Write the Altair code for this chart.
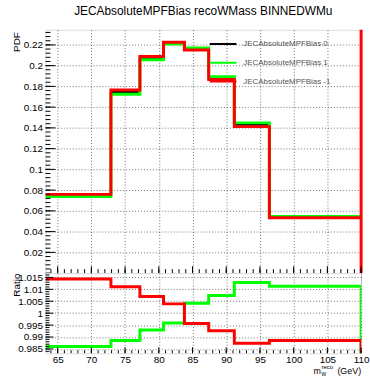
import altair as alt
import pandas as pd

# ---------------- data ----------------
edges = [63.2, 72.9, 77.2, 80.7, 83.8, 87.4, 91.2, 96.4, 110.0]
nominal = [0.0748, 0.1745, 0.2072, 0.2217, 0.2160, 0.1880, 0.1430, 0.0540]
var_up = [0.0738, 0.1725, 0.2057, 0.2208, 0.2169, 0.1894, 0.1448, 0.0546]
var_down = [0.0759, 0.1764, 0.2087, 0.2226, 0.2151, 0.1866, 0.1412, 0.0534]
ratio_up = [0.9860, 0.9885, 0.9929, 0.9959, 1.0042, 1.0074, 1.0129, 1.0113]
ratio_down = [1.0143, 1.0111, 1.0070, 1.0039, 0.9957, 0.9926, 0.9874, 0.9885]

series_names = ["JECAbsoluteMPFBias 0", "JECAbsoluteMPFBias 1", "JECAbsoluteMPFBias -1"]
title_text = "JECAbsoluteMPFBias recoWMass BINNEDWMu"

x_labels = [65, 70, 75, 80, 85, 90, 95, 100, 105, 110]
y_top_labels = [0.02, 0.04, 0.06, 0.08, 0.1, 0.12, 0.14, 0.16, 0.18, 0.2, 0.22]
y_ratio_labels = [0.985, 0.99, 0.995, 1.0, 1.005, 1.01, 1.015]

XDOM = [63.2, 110.0]
YTOP = [0.0, 0.2346]
YRAT = [0.9832, 1.0168]

# minor tick positions (axis decoration)
x_minor = [float(v) for v in range(64, 111)]
y_top_minor = [round(0.004 * k, 4) for k in range(0, 59)]
y_ratio_minor = [round(0.984 + 0.001 * k, 4) for k in range(0, 33)]

# ---------------- style ----------------
W, HT, HB = 319, 246, 81
FONT = "Liberation Sans"
RED, GREEN, BLACK = "#ff0000", "#00ff00", "#000000"


def step_rows(vals, name, end=None):
    rows = [{"x": edges[i], "y": vals[i], "series": name, "i": i} for i in range(len(vals))]
    rows.append({"x": edges[-1], "y": vals[-1], "series": name, "i": len(vals)})
    if end is not None:
        rows.append({"x": edges[-1], "y": end, "series": name, "i": len(vals) + 1})
    return pd.DataFrame(rows)


common = dict(grid=True, gridColor="#000", gridDash=[1, 2], gridOpacity=0.55,
              ticks=False, domain=False, labelFont=FONT, labelFontSize=10,
              labelColor="#000", titleFont=FONT, titleFontSize=10,
              titleColor="#000", titleFontWeight="normal")

xs = alt.Scale(domain=XDOM, nice=False, zero=False)
yts = alt.Scale(domain=YTOP, nice=False, zero=False)
yrs = alt.Scale(domain=YRAT, nice=False, zero=False)

ax_x_top = alt.Axis(values=x_labels, labels=False, title=None, minExtent=0, maxExtent=0, **common)
ax_x_bot = alt.Axis(values=x_labels, format="d", title=None, labelFlush=False, labelPadding=1, **common)
ax_y_top = alt.Axis(values=y_top_labels, format="~g", title="PDF", titleAngle=270, labelPadding=3,
                    titleAlign="right", titleBaseline="middle", titleX=-29, titleY=2, **common)
ax_y_bot = alt.Axis(values=y_ratio_labels, format="~g", title="Ratio", titleAngle=270, labelPadding=3,
                    titleAlign="right", titleBaseline="middle", titleX=-29, titleY=0, **common)

XT = alt.X("x:Q", scale=xs, axis=ax_x_top)
YT = alt.Y("y:Q", scale=yts, axis=ax_y_top)
XB = alt.X("x:Q", scale=xs, axis=ax_x_bot)
YB = alt.Y("y:Q", scale=yrs, axis=ax_y_bot)

cscale = alt.Scale(domain=series_names, range=[BLACK, GREEN, RED])
legend = alt.Legend(orient="none", legendX=165, legendY=5, title=None, symbolType="stroke",
                    symbolSize=729, symbolStrokeWidth=2, labelFont=FONT, labelFontSize=8,
                    labelColor="#555", labelOffset=6, rowPadding=0, clipHeight=18.7,
                    padding=0, offset=0)


def hist_line(df, width):
    return alt.Chart(df).mark_line(interpolate="step-after", strokeWidth=width, clip=True).encode(
        x=XT, y=YT, color=alt.Color("series:N", scale=cscale, legend=legend), order="i:Q")


top_layers = [
    hist_line(step_rows(nominal, series_names[0]), 2),
    hist_line(step_rows(var_up, series_names[1]), 3),
    hist_line(step_rows(var_down, series_names[2]), 3),
    alt.Chart(pd.DataFrame({"x": [edges[-1]], "y": [YTOP[0]], "y2": [YTOP[1]]}))
       .mark_rule(color=RED, strokeWidth=3).encode(x=XT, y=YT, y2="y2:Q"),
    # inward ticks
    alt.Chart(pd.DataFrame({"y": y_top_labels})).mark_rule(color=BLACK)
       .encode(y=YT, x=alt.value(0), x2=alt.value(10)),
    alt.Chart(pd.DataFrame({"y": y_top_minor})).mark_rule(color=BLACK)
       .encode(y=YT, x=alt.value(0), x2=alt.value(5)),
    alt.Chart(pd.DataFrame({"x": x_labels})).mark_rule(color=BLACK)
       .encode(x=XT, y=alt.value(HT), y2=alt.value(HT - 7)),
    alt.Chart(pd.DataFrame({"x": x_minor})).mark_rule(color=BLACK)
       .encode(x=XT, y=alt.value(HT), y2=alt.value(HT - 4)),
]

top = alt.layer(*top_layers).properties(
    width=W, height=HT,
    title=alt.TitleParams(title_text, font=FONT, fontSize=12, fontWeight="normal",
                          color="#000", anchor="middle", frame="group",
                          baseline="alphabetic", offset=1))


def ratio_line(df, color):
    return alt.Chart(df).mark_line(interpolate="step-after", strokeWidth=3, clip=True,
                                   color=color).encode(x=XB, y=YB, order="i:Q")


bottom_layers = [
    ratio_line(step_rows(ratio_up, series_names[1], YRAT[0]), GREEN),
    ratio_line(step_rows(ratio_down, series_names[2], YRAT[0]), RED),
    alt.Chart(pd.DataFrame({"y": y_ratio_labels})).mark_rule(color=BLACK)
       .encode(y=YB, x=alt.value(0), x2=alt.value(8)),
    alt.Chart(pd.DataFrame({"y": y_ratio_minor})).mark_rule(color=BLACK)
       .encode(y=YB, x=alt.value(0), x2=alt.value(4)),
    alt.Chart(pd.DataFrame({"x": x_labels})).mark_rule(color=BLACK)
       .encode(x=XB, y=alt.value(HB), y2=alt.value(HB - 6)),
    alt.Chart(pd.DataFrame({"x": x_minor})).mark_rule(color=BLACK)
       .encode(x=XB, y=alt.value(HB), y2=alt.value(HB - 3)),
    # axis title m_W^reco (GeV)
    alt.Chart(pd.DataFrame({"t": ["m"]})).mark_text(font=FONT, fontSize=9, align="left",
        baseline="alphabetic", color=BLACK).encode(text="t:N", x=alt.value(271), y=alt.value(102)),
    alt.Chart(pd.DataFrame({"t": ["reco"]})).mark_text(font=FONT, fontSize=6, align="left",
        baseline="alphabetic", color=BLACK).encode(text="t:N", x=alt.value(279), y=alt.value(97)),
    alt.Chart(pd.DataFrame({"t": ["W"]})).mark_text(font=FONT, fontSize=5, align="left",
        baseline="alphabetic", color=BLACK).encode(text="t:N", x=alt.value(279), y=alt.value(104)),
    alt.Chart(pd.DataFrame({"t": ["(GeV)"]})).mark_text(font=FONT, fontSize=9, align="right",
        baseline="alphabetic", color=BLACK).encode(text="t:N", x=alt.value(W), y=alt.value(102)),
]

bottom = alt.layer(*bottom_layers).properties(width=W, height=HB)

chart = alt.vconcat(top, bottom, spacing=0, bounds="flush").resolve_scale(
    color="independent").resolve_legend(color="independent").properties(
    padding={"left": 11, "top": 3, "right": 0, "bottom": 0}
).configure_view(stroke=BLACK, strokeWidth=1).configure(background="white")

chart.save("out.html", embed_options={"renderer": "svg", "actions": False})
